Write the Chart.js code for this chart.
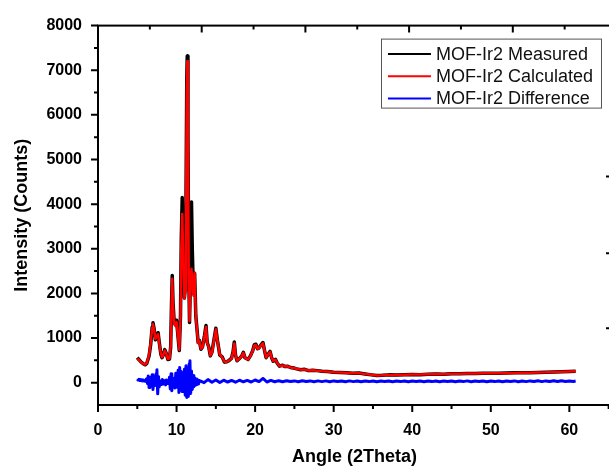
<!DOCTYPE html>
<html>
<head>
<meta charset="utf-8">
<title>MOF-Ir2 XRD</title>
<script src="https://cdn.jsdelivr.net/npm/chart.js@4.4.0/dist/chart.umd.min.js"></script>
<style>
    html, body { margin: 0; padding: 0; background: #fff; overflow: hidden; }
    #wrap { width: 640px; height: 466px; }
</style>
</head>
<body>
<div id="wrap"><canvas id="xrd-chart" width="640" height="466"></canvas></div>
<script>
// XRD pattern data
const angles = [
    5.0, 5.2, 5.5, 5.8, 6.0, 6.2, 6.5, 6.7, 6.9, 7.0,
    7.15, 7.3, 7.5, 7.65, 7.8, 8.0, 8.15, 8.3, 8.5, 8.7,
    8.9, 9.1, 9.25, 9.35, 9.45, 9.55, 9.7, 9.85, 10.0, 10.15,
    10.35, 10.5, 10.6, 10.72, 10.85, 11.0, 11.1, 11.2, 11.3, 11.36,
    11.45, 11.55, 11.65, 11.8, 11.9, 12.0, 12.15, 12.3, 12.45, 12.6,
    12.75, 12.9, 13.1, 13.3, 13.55, 13.75, 13.9, 14.1, 14.3, 14.5,
    14.8, 15.0, 15.2, 15.5, 15.8, 16.1, 16.4, 16.7, 17.0, 17.2,
    17.35, 17.5, 17.7, 18.0, 18.3, 18.5, 18.7, 18.9, 19.1, 19.4,
    19.7, 19.9, 20.1, 20.3, 20.5, 20.8, 21.0, 21.2, 21.4, 21.6,
    21.9, 22.1, 22.3, 22.6, 22.8, 23.1, 23.5, 23.8, 24.1, 24.5,
    24.9, 25.3, 25.8, 26.3, 26.8, 27.3, 27.9, 28.5, 29.2, 30.0,
    30.8, 31.6, 32.4, 33.2, 34.0, 34.8, 35.5, 36.2, 37.0, 38.0,
    39.0, 40.0, 41.0, 42.0, 43.0, 44.0, 45.0, 46.0, 47.0, 48.0,
    49.0, 50.0, 51.0, 52.0, 53.0, 54.0, 55.0, 56.0, 57.0, 58.0,
    59.0, 60.0, 60.8
];

const measured = [
    560, 520, 460, 420, 400, 430, 600, 850, 1250, 1340,
    1200, 960, 1050, 1120, 900, 640, 560, 620, 740, 650,
    520, 530, 800, 1700, 2400, 1800, 1350, 1300, 1400, 1100,
    720, 1500, 3200, 4150, 3000, 1900, 2100, 4000, 6800, 7320,
    5500, 2500, 1350, 2600, 4050, 3000, 2000, 2450, 1500, 1200,
    900, 950, 750, 800, 1050, 1280, 900, 800, 600, 680,
    1000, 1220, 950, 620, 580, 460, 470, 500, 550, 700,
    910, 620, 490, 540, 600, 680, 560, 540, 520, 600,
    720, 850, 860, 760, 780, 860, 900, 720, 560, 620,
    700, 560, 480, 520, 440, 370, 390, 360, 370, 340,
    330, 310, 290, 300, 270, 280, 270, 255, 250, 235,
    230, 225, 210, 215, 195, 175, 160, 165, 175, 170,
    180, 185, 180, 190, 195, 190, 200, 200, 205, 205,
    210, 212, 210, 215, 220, 222, 225, 228, 232, 238,
    245, 250, 255
];

const calculated = [
    540, 510, 455, 420, 405, 440, 620, 880, 1230, 1310,
    1180, 980, 1040, 1090, 880, 650, 570, 610, 720, 640,
    530, 540, 820, 1650, 2330, 1760, 1320, 1270, 1360, 1080,
    740, 1450, 3000, 3780, 2850, 1880, 2050, 3800, 6600, 7200,
    5400, 2450, 1380, 2300, 2550, 2250, 1950, 2460, 1480, 1190,
    890, 940, 760, 790, 1030, 1250, 890, 790, 610, 670,
    980, 1200, 940, 630, 570, 470, 470, 500, 545, 690,
    880, 620, 495, 540, 595, 670, 560, 540, 520, 595,
    715, 830, 845, 760, 775, 850, 880, 715, 565, 615,
    690, 560, 485, 515, 440, 375, 385, 360, 368, 342,
    330, 312, 292, 298, 272, 278, 270, 256, 250, 236,
    230, 224, 212, 214, 196, 176, 162, 165, 174, 171,
    180, 184, 181, 189, 194, 191, 199, 201, 204, 206,
    209, 212, 211, 214, 219, 223, 224, 229, 231, 237,
    244, 249, 254
];

const diffAngles = [
    5.0, 5.1, 5.2, 5.3, 5.4, 5.5, 5.6, 5.7, 5.8, 5.9,
    6.0, 6.1, 6.2, 6.3, 6.4, 6.5, 6.6, 6.7, 6.8, 6.9,
    7.0, 7.1, 7.2, 7.3, 7.4, 7.5, 7.6, 7.7, 7.8, 7.9,
    8.0, 8.1, 8.2, 8.3, 8.4, 8.5, 8.6, 8.7, 8.8, 8.9,
    9.0, 9.1, 9.2, 9.3, 9.4, 9.5, 9.6, 9.7, 9.8, 9.9,
    10.0, 10.1, 10.2, 10.3, 10.4, 10.5, 10.6, 10.7, 10.8, 10.9,
    11.0, 11.1, 11.2, 11.3, 11.4, 11.5, 11.6, 11.7, 11.8, 11.9,
    12.0, 12.1, 12.2, 12.3, 12.4, 12.5, 12.6, 12.7, 12.8, 12.9,
    13.0, 13.5, 14.0, 14.5, 15.0, 15.5, 16.0, 16.5, 17.0, 17.5,
    18.0, 18.5, 19.0, 19.5, 20.0, 20.5, 21.0, 21.5, 22.0, 22.5,
    23.0, 23.5, 24.0, 24.5, 25.0, 25.5, 26.0, 26.5, 27.0, 27.5,
    28.0, 28.5, 29.0, 29.5, 30.0, 30.5, 31.0, 31.5, 32.0, 32.5,
    33.0, 33.5, 34.0, 34.5, 35.0, 35.5, 36.0, 36.5, 37.0, 37.5,
    38.0, 38.5, 39.0, 39.5, 40.0, 40.5, 41.0, 41.5, 42.0, 42.5,
    43.0, 43.5, 44.0, 44.5, 45.0, 45.5, 46.0, 46.5, 47.0, 47.5,
    48.0, 48.5, 49.0, 49.5, 50.0, 50.5, 51.0, 51.5, 52.0, 52.5,
    53.0, 53.5, 54.0, 54.5, 55.0, 55.5, 56.0, 56.5, 57.0, 57.5,
    58.0, 58.5, 59.0, 59.5, 60.0, 60.5, 60.8
];

const difference = [
    80, 60, 75, 50, 70, 45, 65, 40, 60, 35,
    55, 30, 90, -20, 150, -110, 60, 120, -80, 180,
    -150, 90, 30, -60, 200, 290, -250, 140, -90, 40,
    20, -40, 70, -30, 50, 10, -50, 60, -20, 30,
    -10, 120, -140, 200, -180, 110, -60, 90, -120, 210,
    -100, 60, 280, -220, 340, -160, 250, -200, 150, -120,
    300, -280, 380, -330, 200, -310, 420, 494, -240, 260,
    -150, 160, -90, 110, -60, 80, -40, 60, -30, 50,
    40, 0, 70, 10, 60, 5, 55, 15, 50, 10,
    55, 20, 50, 15, 60, 25, 95, 15, 50, 20,
    45, 22, 42, 25, 40, 22, 42, 25, 40, 22,
    40, 24, 40, 22, 40, 25, 38, 22, 40, 24,
    38, 22, 36, 24, 38, 22, 36, 25, 38, 22,
    36, 24, 38, 22, 36, 25, 38, 22, 36, 24,
    38, 23, 36, 25, 38, 22, 36, 24, 40, 22,
    36, 25, 38, 23, 36, 24, 38, 22, 36, 25,
    40, 22, 38, 24, 40, 25, 42, 24, 40, 27,
    44, 26, 42, 28, 40, 26, 36
];

const xTickLabels = [0, 10, 20, 30, 40, 50, 60];
const yTickLabels = [0, 1000, 2000, 3000, 4000, 5000, 6000, 7000, 8000];

// odd ticks of the top / right axes (other Origin layer)
const topMajorTicks = [0, 13.2, 26.4, 39.6, 52.8];
const topMinorTicks = [6.6, 19.8, 33.0, 46.2, 59.4];
const rightTicks = [1220, 2900, 4620];

const FONT = '"Liberation Sans", Arial, Helvetica, sans-serif';

function toPoints(xs, ys) {
    return xs.map((x, i) => ({ x: x, y: ys[i] }));
}

// frame + tick marks
const framePlugin = {
    id: 'frame',
    afterDraw(chart) {
        const { ctx, chartArea } = chart;
        const xs = chart.scales.x, ys = chart.scales.y;
        const { left, right, top, bottom } = chartArea;
        ctx.save();
        ctx.strokeStyle = '#000';
        ctx.lineWidth = 2;
        ctx.lineCap = 'butt';
        ctx.strokeRect(left, top, right - left, bottom - top);

        ctx.beginPath();
        xs.ticks.forEach(t => {
            const px = xs.getPixelForValue(t.value);
            ctx.moveTo(px, bottom); ctx.lineTo(px, bottom + 7);
            const mv = t.value + 5;
            if (mv <= xs.max) {
                const mp = xs.getPixelForValue(mv);
                ctx.moveTo(mp, bottom); ctx.lineTo(mp, bottom + 4);
            }
        });
        ys.ticks.forEach(t => {
            const py = ys.getPixelForValue(t.value);
            ctx.moveTo(left, py); ctx.lineTo(left - 7, py);
            const mv = t.value - 500;
            if (mv > ys.min) {
                const mp = ys.getPixelForValue(mv);
                ctx.moveTo(left, mp); ctx.lineTo(left - 4, mp);
            }
        });
        topMajorTicks.forEach(v => {
            const px = xs.getPixelForValue(v);
            ctx.moveTo(px, top); ctx.lineTo(px, top + 7);
        });
        topMinorTicks.forEach(v => {
            const px = xs.getPixelForValue(v);
            ctx.moveTo(px, top); ctx.lineTo(px, top + 4);
        });
        rightTicks.forEach(v => {
            const py = ys.getPixelForValue(v);
            ctx.moveTo(right, py); ctx.lineTo(right - 5, py);
        });
        ctx.stroke();
        ctx.restore();
    }
};

// boxed legend inside the plot
const boxLegendPlugin = {
    id: 'boxLegend',
    afterDraw(chart) {
        const { ctx, chartArea } = chart;
        const sets = chart.data.datasets;
        ctx.save();
        ctx.font = '18px ' + FONT;
        const textW = Math.max(...sets.map(ds => ctx.measureText(ds.label).width));
        const padL = 7, lineLen = 43, gap = 5, padR = 8, rowH = 22.3;
        const boxW = padL + lineLen + gap + textW + padR;
        const boxH = 69;
        const boxRight = chartArea.right - 10;
        const boxLeft = boxRight - boxW;
        const boxTop = chartArea.top + 13;
        ctx.fillStyle = '#fff';
        ctx.fillRect(boxLeft, boxTop, boxW, boxH);
        ctx.strokeStyle = '#555';
        ctx.lineWidth = 1;
        ctx.strokeRect(Math.round(boxLeft) + 0.5, boxTop + 0.5, Math.round(boxW), boxH);
        ctx.textBaseline = 'middle';
        ctx.textAlign = 'left';
        sets.forEach((ds, i) => {
            const cy = boxTop + 15.3 + i * rowH;
            ctx.strokeStyle = ds.borderColor;
            ctx.lineWidth = 2;
            ctx.beginPath();
            ctx.moveTo(boxLeft + padL, cy);
            ctx.lineTo(boxLeft + padL + lineLen, cy);
            ctx.stroke();
            ctx.fillStyle = '#111';
            ctx.fillText(ds.label, boxLeft + padL + lineLen + gap, cy + 1);
        });
        ctx.restore();
    }
};

function drawXrdChart() {
    const ctx = document.getElementById('xrd-chart').getContext('2d');

    new Chart(ctx, {
        type: 'line',
        data: {
            datasets: [{
                label: 'MOF-Ir2 Measured',
                data: toPoints(angles, measured),
                borderColor: '#000000',
                borderWidth: 3.5,
                order: 3
            },
            {
                label: 'MOF-Ir2 Calculated',
                data: toPoints(angles, calculated),
                borderColor: '#ff0000',
                borderWidth: 2.5,
                order: 2
            },
            {
                label: 'MOF-Ir2 Difference',
                data: toPoints(diffAngles, difference),
                borderColor: '#0000ff',
                borderWidth: 3,
                order: 1
            }]
        },
        options: {
            responsive: false,
            animation: false,
            devicePixelRatio: 1,
            layout: { padding: { top: 21, right: 29, left: 0, bottom: 0 } },
            elements: {
                point: { radius: 0 },
                line: { tension: 0, borderJoinStyle: 'round', fill: false }
            },
            plugins: {
                legend: { display: false },
                tooltip: { enabled: false }
            },
            scales: {
                x: {
                    type: 'linear',
                    min: 0,
                    max: 65.3,
                    grid: { display: false, drawTicks: false },
                    border: { display: false },
                    afterBuildTicks: function(scale) {
                        scale.ticks = xTickLabels.map(v => ({ value: v }));
                    },
                    ticks: {
                        padding: 16,
                        color: '#000',
                        maxRotation: 0,
                        autoSkip: false,
                        font: { family: FONT, size: 16, weight: 'bold' },
                        callback: function(value) { return String(value); }
                    },
                    title: {
                        display: true,
                        text: 'Angle (2Theta)',
                        color: '#000',
                        padding: 0,
                        font: { family: FONT, size: 18, weight: 'bold', lineHeight: 1 }
                    },
                    afterFit: function(scale) { scale.height = 61; }
                },
                y: {
                    min: -500,
                    max: 8000,
                    grid: { display: false, drawTicks: false },
                    border: { display: false },
                    afterBuildTicks: function(scale) {
                        scale.ticks = yTickLabels.map(v => ({ value: v }));
                    },
                    ticks: {
                        padding: 16,
                        color: '#000',
                        autoSkip: false,
                        font: { family: FONT, size: 16, weight: 'bold' },
                        callback: function(value) { return String(value); }
                    },
                    title: {
                        display: true,
                        text: 'Intensity (Counts)',
                        color: '#000',
                        padding: { top: 11, bottom: 11 },
                        font: { family: FONT, size: 18, weight: 'bold', lineHeight: 1.2 }
                    },
                    afterFit: function(scale) { scale.width = 98; }
                }
            }
        },
        plugins: [framePlugin, boxLegendPlugin]
    });
}

drawXrdChart();
</script>
</body>
</html>
